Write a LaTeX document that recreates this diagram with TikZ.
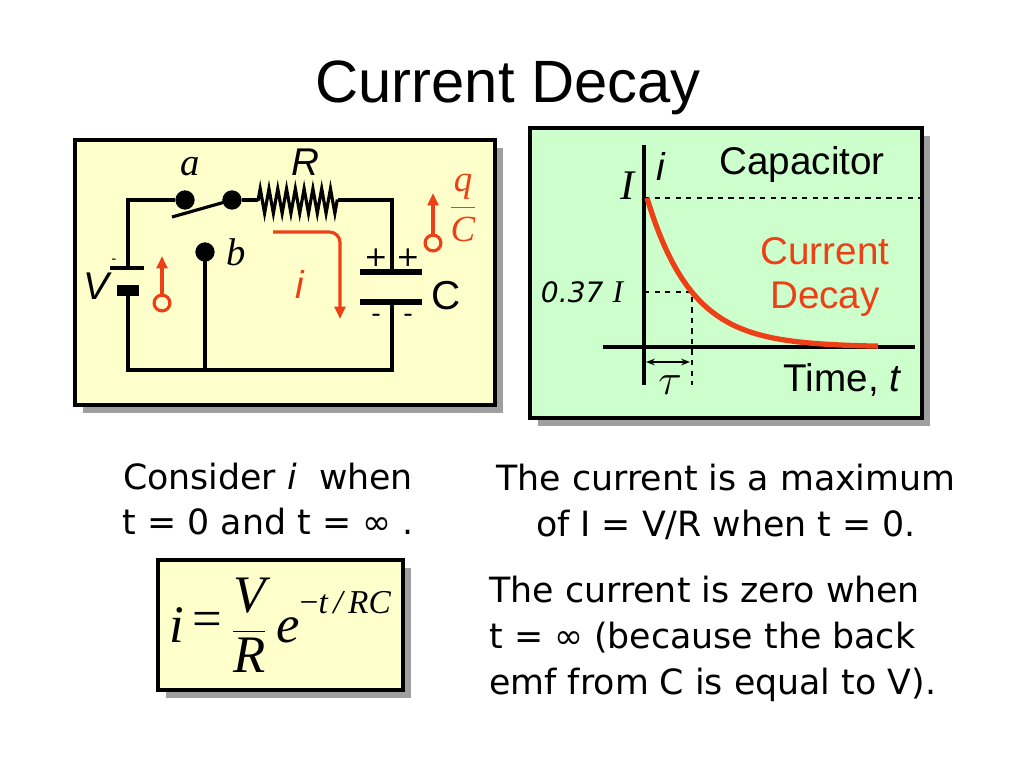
\documentclass[tikz,border=0pt]{standalone}
\usepackage{fontspec}
\setmainfont{DejaVu Sans}
\newfontfamily\arialf{Liberation Sans}
\newfontfamily\timesf{Liberation Serif}
\usetikzlibrary{arrows.meta,decorations.pathmorphing}
\definecolor{myred}{RGB}{238,64,22}
\definecolor{boxy}{RGB}{255,255,204}
\definecolor{boxg}{RGB}{204,255,204}
\tikzset{
 wire/.style={line width=1.8pt,black},
 panel/.style={draw=black,line width=1.8pt},
 shadow/.style={fill=gray!75,draw=none},
 dot/.style={circle,fill=black,inner sep=0pt,minimum size=11pt},
 rarrow/.style={myred,line width=1.8pt,-{Triangle[length=7pt,width=6pt]}},
 body/.style={font=\fontsize{19.8}{23}\selectfont,inner sep=0pt},
 guide/.style={dashed,line width=0.8pt}
}
\begin{document}
\begin{tikzpicture}[x=0.02cm,y=-0.02cm]
\useasboundingbox (0,0) rectangle (1024,768);
\node (title) at (508,88) {\arialf\fontsize{34}{38}\selectfont Current Decay};
% circuit panel
\fill[shadow] (83,148) rectangle (503,413);
\draw[panel,fill=boxy] (75,140) rectangle (495,405);
\coordinate (tl) at (128,200); \coordinate (bl) at (128,370);
\coordinate (tr) at (392,200); \coordinate (br) at (392,370);
\node[dot] (a) at (185,200) {};
\node[dot] (a2) at (232,200) {};
\node[dot] (b) at (205,252) {};
\draw[wire] (128,268) -- (tl) -- (a);
\draw[wire] (172,217) -- (a2.center);
\draw[wire] (a2) -- (258,200);
\draw[wire,decorate,decoration={zigzag,segment length=5pt,amplitude=7pt}] (258,201) -- (338,201);
\draw[wire] (338,200) -- (tr) -- (392,272);
\draw[wire] (392,302) -- (br) -- (bl) -- (128,292);
\draw[wire] (b.center) -- (205,370);
\draw[line width=2.2pt] (110,268) -- (144,268);
\fill (117,285) rectangle (139,296);
\node[inner sep=0pt] (minus) at (114,261) {\fontsize{8}{8}\selectfont -};
\node[inner sep=0pt] (V) at (96,286) {\arialf\itshape\fontsize{22}{22}\selectfont V};
\draw[line width=3pt] (360,272) -- (422,272);
\draw[line width=3pt] (360,302) -- (422,302);
\node (p1) at (376,258) {\fontsize{16}{16}\selectfont +};
\node (p2) at (408,258) {\fontsize{16}{16}\selectfont +};
\node (m1) at (376,318) {\fontsize{15}{15}\selectfont -};
\node (m2) at (408,318) {\fontsize{15}{15}\selectfont -};
\node (C) at (446,296) {\arialf\fontsize{23}{23}\selectfont C};
\node (lba) at (190,167) {\timesf\itshape\fontsize{22}{22}\selectfont a};
\node (lbb) at (236,252) {\timesf\itshape\fontsize{22}{22}\selectfont b};
\node (R) at (305,162) {\arialf\itshape\fontsize{22}{22}\selectfont R};
\draw[myred,line width=1.8pt,rounded corners=6pt,-{Triangle[length=7pt,width=6pt]}] (273,232) -- (340,232) -- (340,319);
\node[myred] (li) at (300,284) {\arialf\itshape\fontsize{22}{22}\selectfont i};
\node[circle,draw=myred,line width=1.8pt,inner sep=0pt,minimum size=9pt] (c1) at (162,303) {};
\coordinate (c1t) at (162,256);
\draw[rarrow] (c1) -- (c1t);
\node[circle,draw=myred,line width=1.8pt,inner sep=0pt,minimum size=9pt] (c2) at (433,243) {};
\coordinate (c2t) at (433,193);
\draw[rarrow] (c2) -- (c2t);
\node[myred] (qc) at (463,208) {\fontsize{21}{21}\selectfont$\displaystyle\frac{\mbox{\timesf\itshape q}}{\mbox{\timesf\itshape C}}$};
% graph panel
\fill[shadow] (538,136) rectangle (930,426);
\draw[panel,fill=boxg] (530,128) rectangle (922,418);
\coordinate (ya) at (644,145); \coordinate (yb) at (644,385);
\coordinate (xa) at (603,347); \coordinate (xb) at (915,347);
\draw[line width=2pt] (ya) -- (yb);
\draw[line width=2pt] (xa) -- (xb);
\draw[guide] (644,198) -- (922,198);
\draw[guide] (644,292) -- (692,292) -- (692,385);
\draw[myred,line width=3pt,domain=647:878,samples=80] plot (\x,{347-149*exp(-(\x-647)/45)});
\draw[{Stealth[length=5pt]}-{Stealth[length=5pt]},line width=0.8pt] (646,362) -- (690,362);
\node (tau) at (670,385) {\fontsize{24}{24}\selectfont$\tau$};
\node (I) at (628,186) {\timesf\itshape\fontsize{24}{24}\selectfont I};
\node (gi) at (661,166) {\arialf\itshape\fontsize{22}{22}\selectfont i};
\node (cap) at (802,165) {\arialf\fontsize{22}{22}\selectfont Capacitor};
\node[myred,align=center,font=\arialf\fontsize{22}{25}\selectfont] (cd) at (825,277) {Current\\Decay};
\node (p37) at (582,292) {\itshape\fontsize{16}{16}\selectfont 0.37 {\timesf\fontsize{18}{18}\selectfont I}};
\node (time) at (842,380) {\arialf\fontsize{22}{22}\selectfont Time, \itshape t};
% text
\node[body,align=center] (t1) at (268,499) {Consider {\itshape i} \ when\\[3pt] t = 0 and t = ∞ .};
\node[body,align=center] (t2) at (726,502) {The current is a maximum\\[3pt] of I = V/R when t = 0.};
\node[body,align=left,anchor=north west] (t3) at (489,576) {The current is zero when\\[3pt] t = ∞ (because the back\\[3pt] emf from C is equal to V).};
% formula
\fill[shadow] (166,568) rectangle (411,698);
\draw[panel,fill=boxy] (158,560) rectangle (403,690);
\node (f) at (280,625) {\timesf\itshape\fontsize{30}{34}\selectfont i\,\raisebox{0.25ex}{\upshape=}\,$\displaystyle\frac{\mbox{\timesf\itshape V}}{\mbox{\timesf\itshape R}}$\,e\raisebox{1.2ex}{\fontsize{19}{19}\selectfont\upshape−\itshape t\,/\,RC}};
\end{tikzpicture}
\end{document}
